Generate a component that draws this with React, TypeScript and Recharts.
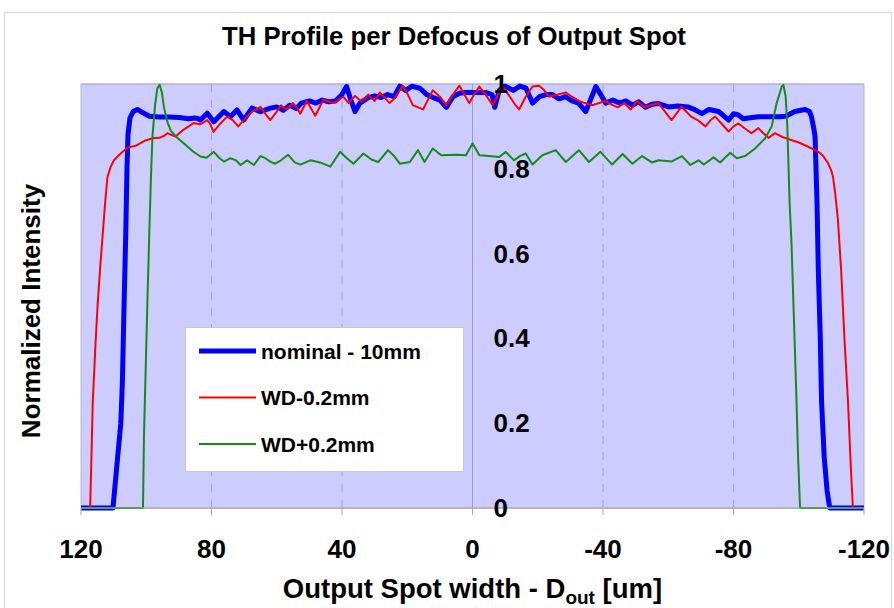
import React from 'react';
import {
  LineChart,
  Line,
  XAxis,
  YAxis,
  CartesianGrid,
  ReferenceLine,
  ReferenceArea,
  ReferenceDot,
} from 'recharts';

const FONT = '"Liberation Sans", Arial, Helvetica, sans-serif';

const chartTitle = 'TH Profile per Defocus of Output Spot';
const yTitle = 'Normalized Intensity';
const xTicks = [120, 80, 40, 0, -40, -80, -120];
const yTicks = [0, 0.2, 0.4, 0.6, 0.8, 1];
const yTickLabels = ['0', '0.2', '0.4', '0.6', '0.8', '1'];
const dashedGridX = [80, 40, -40, -80];

// [position um, normalized intensity]
const nominal10mm: [number, number][] = [
  [120, 0], [112, 0], [110.2, 0], [109, 0.1], [107.8, 0.2], [107.3, 0.3], [106.8, 0.48],
  [106.3, 0.64], [105.9, 0.8], [105.6, 0.88], [105, 0.92], [104, 0.935], [102.7, 0.94],
  [101, 0.932], [99, 0.924], [96, 0.922], [93, 0.922], [90, 0.921], [87, 0.918], [85, 0.92],
  [84, 0.918], [83.4, 0.915], [81.3, 0.931], [79.3, 0.911], [77.5, 0.925], [76.2, 0.935],
  [74.2, 0.923], [72.2, 0.939], [70.1, 0.915], [67.6, 0.943], [65, 0.935], [62, 0.943],
  [60, 0.946], [58, 0.938], [56, 0.95], [54, 0.942], [52.5, 0.955], [50, 0.96], [48, 0.955],
  [46, 0.962], [44, 0.958], [42, 0.96], [40, 0.975], [38.6, 0.994], [37.2, 0.96], [36, 0.935],
  [34.5, 0.955], [32, 0.968], [30, 0.972], [28, 0.968], [26, 0.975], [24, 0.97], [22.3, 0.995],
  [20.5, 0.985], [18.5, 0.995], [16.2, 0.99], [14, 0.975], [12, 0.968], [10, 0.962], [8, 0.945],
  [6, 0.97], [4, 0.978], [2, 0.98], [0, 0.98], [-2, 0.98], [-4, 0.98], [-6, 0.975], [-6.8, 0.945],
  [-8.2, 0.985], [-10, 0.995], [-12.5, 0.985], [-14.5, 0.995], [-16.4, 0.99], [-18.4, 0.955],
  [-20.5, 0.97], [-22.5, 0.975], [-24.5, 0.975], [-26.5, 0.965], [-28.5, 0.97], [-30.5, 0.96],
  [-32.5, 0.955], [-34.7, 0.935], [-36.3, 0.965], [-37.8, 0.994], [-39.3, 0.975], [-40.8, 0.955],
  [-43, 0.962], [-45, 0.955], [-47, 0.96], [-49, 0.95], [-51, 0.958], [-53, 0.945], [-55, 0.952],
  [-57, 0.954], [-60, 0.946], [-63, 0.948], [-66, 0.946], [-68, 0.94], [-70.3, 0.93], [-72.5, 0.94],
  [-75.4, 0.935], [-77, 0.925], [-78.5, 0.915], [-80, 0.93], [-81.5, 0.927], [-83, 0.918],
  [-84.6, 0.92], [-87.6, 0.923], [-91, 0.923], [-94, 0.923], [-96, 0.924], [-98.8, 0.935],
  [-101.9, 0.94], [-103.3, 0.935], [-103.9, 0.923], [-104.6, 0.895], [-105, 0.876], [-105.6, 0.72],
  [-106, 0.56], [-106.6, 0.4], [-107, 0.25], [-107.8, 0.12], [-108.7, 0.04], [-109.5, 0], [-120, 0],
];

const wdMinus: [number, number][] = [
  [120, 0], [117.2, 0], [116.8, 0.12], [116.4, 0.25], [115.6, 0.38], [114.9, 0.48], [114.1, 0.57],
  [113.4, 0.64], [112.6, 0.72], [111.9, 0.78], [110.9, 0.805], [109.9, 0.82], [108, 0.835],
  [105.7, 0.85], [103, 0.855], [100.5, 0.866], [98, 0.872], [96, 0.873], [94.5, 0.878],
  [93.5, 0.884], [92, 0.879], [91, 0.876], [89, 0.89], [87, 0.9], [85.5, 0.908], [83.5, 0.905],
  [81.3, 0.915], [80.3, 0.905], [79.4, 0.887], [77.5, 0.905], [75.2, 0.923], [73.5, 0.915],
  [71.8, 0.9], [69.5, 0.92], [67.5, 0.935], [65, 0.946], [63.5, 0.93], [62, 0.915], [60, 0.935],
  [58.7, 0.95], [57, 0.94], [55, 0.955], [53.5, 0.94], [52.8, 0.93], [50.8, 0.96], [48.2, 0.925],
  [45.7, 0.963], [42.6, 0.955], [39.6, 0.97], [38, 0.955], [36, 0.972], [34, 0.958], [32, 0.975],
  [30, 0.96], [28.4, 0.98], [25.4, 0.955], [23.5, 0.97], [21.4, 0.996], [19.8, 0.975], [18.3, 0.95],
  [15.2, 0.94], [13.5, 0.965], [12.2, 0.985], [10, 0.97], [8, 0.95], [6, 0.975], [4, 0.996],
  [2.5, 0.975], [1, 0.955], [-0.5, 0.975], [-2.1, 0.994], [-4, 0.975], [-6.2, 0.95], [-7.8, 0.975],
  [-9.2, 0.994], [-11, 0.975], [-13.2, 0.95], [-14.3, 0.94], [-16.3, 0.97], [-18.4, 0.994],
  [-20.4, 0.996], [-22, 0.985], [-23.4, 0.97], [-26, 0.975], [-28.6, 0.98], [-30.5, 0.97],
  [-32.6, 0.96], [-34.5, 0.955], [-36.7, 0.95], [-38.8, 0.955], [-40.8, 0.96], [-42.5, 0.952],
  [-44.5, 0.945], [-46.5, 0.955], [-48.5, 0.94], [-50.5, 0.96], [-52.5, 0.945], [-54.5, 0.95],
  [-57, 0.955], [-59, 0.935], [-61, 0.915], [-62.5, 0.93], [-64, 0.946], [-65.5, 0.935],
  [-67, 0.923], [-69, 0.915], [-71.4, 0.9], [-73, 0.915], [-74.4, 0.923], [-76.5, 0.905],
  [-78.5, 0.888], [-80, 0.9], [-81.5, 0.907], [-83.5, 0.895], [-85.5, 0.884], [-87.6, 0.896],
  [-89, 0.885], [-90.7, 0.873], [-92.7, 0.884], [-95, 0.875], [-97.7, 0.868], [-100, 0.862],
  [-102.9, 0.852], [-104.5, 0.846], [-106, 0.84], [-107.5, 0.83], [-109, 0.813], [-110, 0.795],
  [-110.5, 0.781], [-111.2, 0.74], [-112, 0.68], [-113, 0.56], [-114, 0.4], [-115.1, 0.25],
  [-116, 0.09], [-116.6, 0], [-120, 0],
];

const wdPlus: [number, number][] = [
  [120, 0], [101, 0], [100.7, 0.17], [100.2, 0.32], [99.6, 0.5], [99.1, 0.64], [98.6, 0.77],
  [98.1, 0.876], [97.3, 0.95], [96.6, 0.99], [95.9, 0.998], [95.2, 0.98], [94.6, 0.946],
  [93.5, 0.91], [92.5, 0.89], [90.5, 0.873], [88.5, 0.86], [86, 0.843], [84.5, 0.835],
  [83.4, 0.829], [81.5, 0.826], [79.3, 0.84], [77.5, 0.825], [76.2, 0.817], [74.2, 0.825],
  [72.5, 0.82], [71.1, 0.809], [69.1, 0.82], [67, 0.809], [65, 0.83], [63.5, 0.825], [62, 0.817],
  [60.5, 0.812], [58.7, 0.82], [56.5, 0.833], [54.5, 0.815], [52.8, 0.81], [49.7, 0.82],
  [46.7, 0.815], [43.6, 0.805], [40.6, 0.84], [38.5, 0.825], [36.5, 0.812], [33.4, 0.836],
  [31, 0.822], [28.9, 0.816], [25.9, 0.844], [24, 0.83], [22.3, 0.812], [19.2, 0.816],
  [16.7, 0.844], [14.7, 0.816], [12.2, 0.848], [9.6, 0.832], [5, 0.833], [2, 0.832], [0, 0.86],
  [-2.1, 0.832], [-5, 0.83], [-8.2, 0.828], [-10.2, 0.84], [-12.7, 0.82], [-14.5, 0.83],
  [-16.3, 0.836], [-18.4, 0.81], [-21.4, 0.832], [-25.5, 0.844], [-28.6, 0.816], [-32.6, 0.844],
  [-35.7, 0.816], [-39.2, 0.84], [-42.8, 0.81], [-46, 0.835], [-49, 0.812], [-52, 0.83],
  [-55, 0.815], [-57, 0.82], [-61, 0.817], [-64.2, 0.83], [-66.8, 0.809], [-69.3, 0.82],
  [-70.9, 0.81], [-73.9, 0.827], [-75.9, 0.815], [-79, 0.838], [-81, 0.825], [-83.6, 0.83],
  [-86.6, 0.848], [-89.7, 0.872], [-91.7, 0.9], [-93.2, 0.954], [-94.8, 0.994], [-95.3, 0.998],
  [-96, 0.97], [-96.5, 0.9], [-97.2, 0.72], [-97.8, 0.62], [-98.5, 0.45], [-99.2, 0.28],
  [-99.8, 0.12], [-100.4, 0], [-120, 0],
];

const seriesNames = ['nominal - 10mm', 'WD-0.2mm', 'WD+0.2mm'];
const seriesColors = ['#0000ff', '#ff0000', '#158c15'];
const seriesWidths = [5, 2, 2];
const seriesValues = [nominal10mm, wdMinus, wdPlus];

const series = seriesValues.map((vals, i) => ({
  name: seriesNames[i],
  color: seriesColors[i],
  width: seriesWidths[i],
  data: vals.map(([x, y]) => ({ x, y })),
}));

const YTickLabel = (props: any) => {
  const vb = props.viewBox || {};
  const cx = vb.x + (vb.width || 0) / 2;
  const cy = vb.y + (vb.height || 0) / 2;
  return (
    <text
      x={cx + 21}
      y={cy}
      dominantBaseline="central"
      textAnchor="start"
      fontFamily={FONT}
      fontWeight="bold"
      fontSize={26}
      fill="#000"
    >
      {props.value}
    </text>
  );
};

const YTitle = (props: any) => {
  const vb = props.viewBox || {};
  const x = vb.x + 32;
  const y = vb.y + vb.height / 2 + 15;
  return (
    <text
      x={x}
      y={y}
      transform={`rotate(-90, ${x}, ${y})`}
      textAnchor="middle"
      fontFamily={FONT}
      fontWeight="bold"
      fontSize={26}
      fill="#000"
    >
      {yTitle}
    </text>
  );
};

const XTitle = (props: any) => {
  const vb = props.viewBox || {};
  const x = vb.x + vb.width / 2;
  const y = vb.y + 90;
  return (
    <text x={x} y={y} textAnchor="middle" fontFamily={FONT} fontWeight="bold" fontSize={27.5} fill="#000">
      <tspan>Output Spot width - D</tspan>
      <tspan fontSize={19} dy={6}>out</tspan>
      <tspan dy={-6}> [um]</tspan>
    </text>
  );
};

export default function App() {
  return (
    <div style={{ position: 'absolute', left: 0, top: 0, width: 894, height: 608, background: '#fff', overflow: 'hidden' }}>
      <LineChart
        width={894}
        height={608}
        margin={{ top: 84, right: 30, bottom: 0, left: 8 }}
      >
        <CartesianGrid horizontal vertical={false} stroke="#a9a9c4" fill="#ccccff" fillOpacity={1} />
        <CartesianGrid
          horizontal={false}
          vertical
          stroke="#a4a4b8"
          strokeDasharray="8 8"
          verticalValues={dashedGridX}
        />
        <XAxis
          type="number"
          dataKey="x"
          domain={[-120, 120]}
          reversed
          ticks={xTicks}
          allowDataOverflow
          height={100}
          stroke="#a8a8a8"
          tickSize={7}
          tickMargin={25}
          tick={{ fill: '#000', fontSize: 26, fontWeight: 'bold', fontFamily: FONT }}
          label={<XTitle />}
        />
        <YAxis
          type="number"
          domain={[0, 1]}
          ticks={yTicks}
          width={73}
          tick={false}
          axisLine={false}
          tickLine={false}
          label={<YTitle />}
        />
        <ReferenceLine x={0} stroke="#9c9cb4" strokeWidth={1} />
        <ReferenceArea x1={120} x2={-120} y1={0} y2={1} fill="none" stroke="#b8b8c8" strokeWidth={1} />
        {series.map((s) => (
          <Line
            key={s.name}
            data={s.data}
            dataKey="y"
            name={s.name}
            type="linear"
            stroke={s.color}
            strokeWidth={s.width}
            strokeLinejoin="round"
            dot={false}
            activeDot={false}
            isAnimationActive={false}
          />
        ))}
        {yTicks.map((v, i) => (
          <ReferenceDot
            key={`yl${i}`}
            x={0}
            y={v}
            r={0}
            fill="none"
            stroke="none"
            label={<YTickLabel value={yTickLabels[i]} />}
          />
        ))}
      </LineChart>
      <svg
        width={894}
        height={608}
        style={{ position: 'absolute', left: 0, top: 0, pointerEvents: 'none' }}
      >
        <rect x={4.5} y={12.5} width={887} height={610} fill="none" stroke="#d9d9d9" />
        <text x={454} y={45} textAnchor="middle" fontFamily={FONT} fontWeight="bold" fontSize={25.7} fill="#000">
          {chartTitle}
        </text>
        <rect x={185.5} y={327.5} width={278} height={144} fill="#fff" stroke="#c8c8c8" />
        {series.map((s, i) => (
          <g key={`lg${i}`}>
            <line x1={199} x2={256} y1={351 + i * 46.5} y2={351 + i * 46.5} stroke={s.color} strokeWidth={s.width} />
            <text
              x={261}
              y={351 + i * 46.5}
              dominantBaseline="central"
              fontFamily={FONT}
              fontWeight="bold"
              fontSize={21}
              fill="#000"
            >
              {s.name}
            </text>
          </g>
        ))}
      </svg>
    </div>
  );
}
